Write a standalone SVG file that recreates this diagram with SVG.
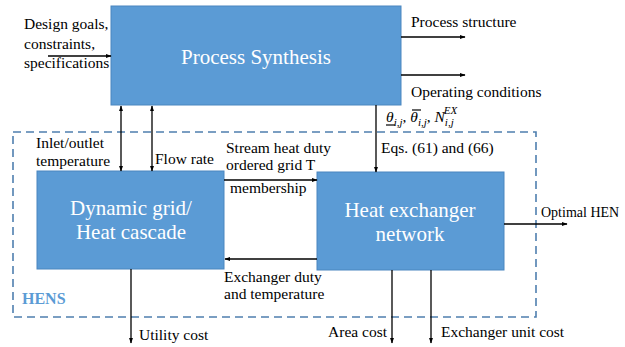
<svg xmlns="http://www.w3.org/2000/svg" width="625" height="347" viewBox="0 0 625 347">
  <defs>
    <marker id="arr" viewBox="0 0 10 10" refX="9" refY="5" markerWidth="6" markerHeight="6" orient="auto-start-reverse" markerUnits="userSpaceOnUse">
      <path d="M0,1.5 L10,5 L0,8.5 Z" fill="#000"/>
    </marker>
  </defs>
  <style>
    .box { fill: #5B9BD5; stroke: #4A86BF; stroke-width: 1; }
    .title { font-family: "Liberation Serif", "Times New Roman", serif; fill: #ffffff; text-anchor: middle; }
    .lbl { font-family: "Liberation Serif", "Times New Roman", serif; font-size: 15.5px; fill: #000; }
    .lbl-sm { font-family: "Liberation Serif", "Times New Roman", serif; font-size: 14px; fill: #000; }
    .conn { stroke: #000; stroke-width: 1.3; fill: none; }
    .hens { fill: none; stroke: #4F7FAF; stroke-width: 1.6; stroke-dasharray: 8 5; }
    .ital { font-style: italic; }
  </style>

  <!-- dashed HENS boundary -->
  <g id="hens-boundary">
    <rect class="hens" x="13" y="132" width="523" height="185"/>
    <text x="22" y="304" font-family="'Liberation Serif', serif" font-size="16" font-weight="bold" fill="#5B9BD5">HENS</text>
  </g>

  <!-- nodes -->
  <g id="process-synthesis">
    <rect class="box" x="111" y="6" width="290" height="99"/>
    <text class="title" x="256" y="64" font-size="21">Process Synthesis</text>
  </g>

  <g id="dynamic-grid">
    <rect class="box" x="37" y="171" width="187" height="98"/>
    <text class="title" x="131" y="215" font-size="21">Dynamic grid/</text>
    <text class="title" x="131" y="239" font-size="21">Heat cascade</text>
  </g>

  <g id="heat-exchanger-network">
    <rect class="box" x="317" y="172" width="187" height="98"/>
    <text class="title" x="410" y="217" font-size="21">Heat exchanger</text>
    <text class="title" x="410" y="241" font-size="21">network</text>
  </g>

  <!-- connectors -->
  <g id="connectors">
    <line class="conn" x1="48" y1="56" x2="111" y2="56" marker-end="url(#arr)"/>
    <line class="conn" x1="401" y1="37" x2="465" y2="37" marker-end="url(#arr)"/>
    <line class="conn" x1="401" y1="75" x2="465" y2="75" marker-end="url(#arr)"/>
    <line class="conn" x1="121" y1="106" x2="121" y2="171" marker-start="url(#arr)" marker-end="url(#arr)"/>
    <line class="conn" x1="152" y1="106" x2="152" y2="171" marker-start="url(#arr)" marker-end="url(#arr)"/>
    <line class="conn" x1="376" y1="105" x2="376" y2="172" stroke="#333" marker-end="url(#arr)"/>
    <line class="conn" x1="224" y1="180" x2="317" y2="180" marker-end="url(#arr)"/>
    <line class="conn" x1="317" y1="259" x2="225" y2="259" stroke="#404040" stroke-width="1.6" marker-end="url(#arr)"/>
    <line class="conn" x1="504" y1="224" x2="567" y2="224" marker-end="url(#arr)"/>
    <line class="conn" x1="131" y1="269" x2="131" y2="343" marker-end="url(#arr)"/>
    <line class="conn" x1="392" y1="270" x2="392" y2="343" marker-end="url(#arr)"/>
    <line class="conn" x1="431" y1="270" x2="431" y2="343" marker-end="url(#arr)"/>
  </g>

  <!-- connector labels -->
  <g id="labels">
    <text class="lbl" x="24" y="29">Design goals,</text>
    <text class="lbl" x="24" y="49">constraints,</text>
    <text class="lbl" x="24" y="68">specifications</text>

    <text class="lbl" x="411" y="27">Process structure</text>
    <text class="lbl" x="411" y="97">Operating conditions</text>

    <text class="lbl" x="36" y="148">Inlet/outlet</text>
    <text class="lbl" x="36" y="166">temperature</text>
    <text class="lbl" x="155" y="164">Flow rate</text>

    <text class="lbl" x="226" y="153">Stream heat duty</text>
    <text class="lbl" x="226" y="170">ordered grid T</text>
    <text class="lbl" x="230" y="193">membership</text>

    <text class="lbl" x="386" y="122"><tspan class="ital">θ</tspan><tspan class="ital" font-size="11" dy="4">i,j</tspan><tspan dy="-4">, </tspan><tspan class="ital">θ</tspan><tspan class="ital" font-size="11" dy="4">i,j</tspan><tspan dy="-4">, </tspan><tspan class="ital">N</tspan><tspan class="ital" font-size="11" dy="4">i,j</tspan><tspan class="ital" font-size="11" dx="-10" dy="-12">EX</tspan></text>
    <line x1="386" y1="125" x2="395" y2="125" stroke="#000" stroke-width="1.2"/>
    <line x1="412" y1="110" x2="421" y2="110" stroke="#000" stroke-width="1.2"/>
    <text class="lbl" x="381" y="153">Eqs. (61) and (66)</text>

    <text class="lbl" x="224" y="282">Exchanger duty</text>
    <text class="lbl" x="224" y="299">and temperature</text>

    <text class="lbl-sm" x="541" y="217">Optimal HEN</text>

    <text class="lbl" x="139" y="340">Utility cost</text>
    <text class="lbl" x="387" y="337" text-anchor="end">Area cost</text>
    <text class="lbl" x="441" y="337">Exchanger unit cost</text>
  </g>
</svg>
